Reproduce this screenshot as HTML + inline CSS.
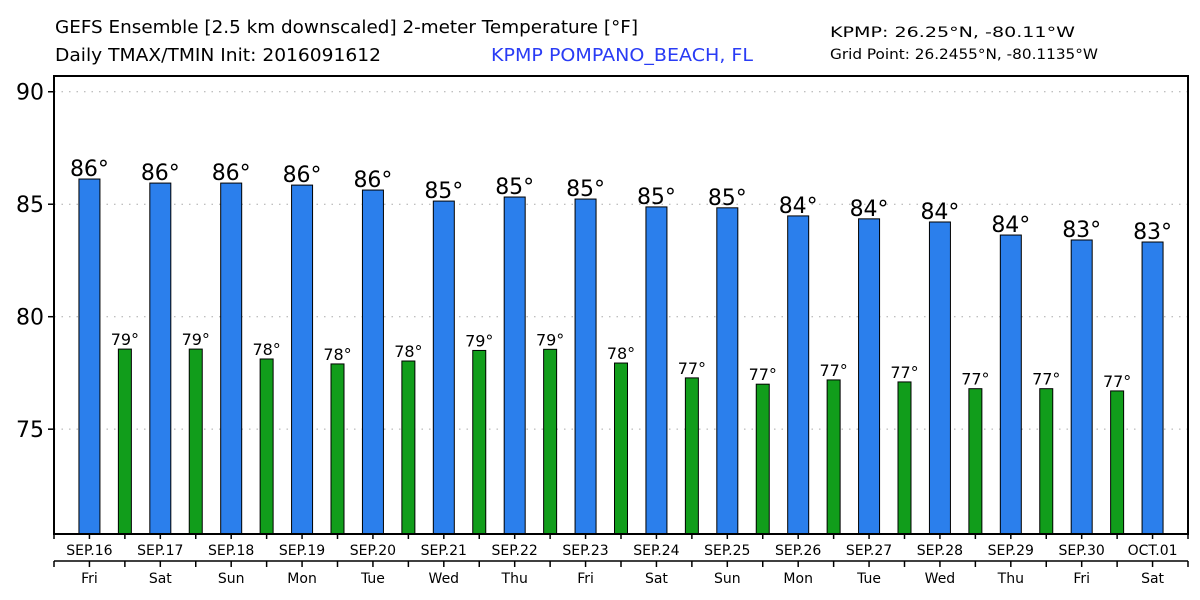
<!DOCTYPE html>
<html><head><meta charset="utf-8"><style>
html,body{margin:0;padding:0;background:#fff;width:1200px;height:600px;overflow:hidden}
svg text{font-family:"DejaVu Sans","Liberation Sans",sans-serif}
</style></head><body>
<svg id="chart" width="1200" height="600" xmlns="http://www.w3.org/2000/svg">
<text x="55" y="33" font-size="18" textLength="583" lengthAdjust="spacingAndGlyphs">GEFS Ensemble [2.5 km downscaled] 2-meter Temperature [°F]</text>
<text x="55" y="61" font-size="18" textLength="326" lengthAdjust="spacingAndGlyphs">Daily TMAX/TMIN Init: 2016091612</text>
<text x="491" y="61" font-size="18" fill="#2a3cf5" textLength="262" lengthAdjust="spacingAndGlyphs">KPMP POMPANO_BEACH, FL</text>
<text x="830" y="37" font-size="14" textLength="245" lengthAdjust="spacingAndGlyphs">KPMP: 26.25°N, -80.11°W</text>
<text x="830" y="59" font-size="14" textLength="268" lengthAdjust="spacingAndGlyphs">Grid Point: 26.2455°N, -80.1135°W</text>
<g id="grid"></g><g id="bars"></g><g id="axes"></g>
</svg>
<script>
const dates=["SEP.16","SEP.17","SEP.18","SEP.19","SEP.20","SEP.21","SEP.22","SEP.23","SEP.24","SEP.25","SEP.26","SEP.27","SEP.28","SEP.29","SEP.30","OCT.01"];
const days=["Fri","Sat","Sun","Mon","Tue","Wed","Thu","Fri","Sat","Sun","Mon","Tue","Wed","Thu","Fri","Sat"];
const tmax=[86.12,85.94,85.94,85.85,85.63,85.14,85.32,85.23,84.88,84.84,84.48,84.35,84.21,83.63,83.41,83.32];
const tmin=[78.56,78.56,78.12,77.9,78.03,78.5,78.55,77.94,77.28,77.0,77.19,77.1,76.8,76.8,76.7];
const yTicks=[75,80,85,90];
const NS="http://www.w3.org/2000/svg";
const L=54,R=1188,T=76,B=534,YMIN=70.34,YMAX=90.7;
const dw=(R-L)/dates.length;
const y=v=>B-(v-YMIN)/(YMAX-YMIN)*(B-T);
const x=i=>L+i*dw;
function mk(tag,attrs,parent){const e=document.createElementNS(NS,tag);for(const k in attrs)e.setAttribute(k,attrs[k]);parent.appendChild(e);return e;}
const grid=document.getElementById('grid'),bars=document.getElementById('bars'),axes=document.getElementById('axes');
yTicks.forEach(t=>{
 const g=mk('line',{x1:L,x2:R,y1:y(t),y2:y(t),stroke:'#aaa','stroke-dasharray':'1.5,6'},grid);
 
 
 const tk=mk('line',{x1:L-6,x2:L,y1:y(t),y2:y(t),stroke:'#000','stroke-width':1.5},axes);
 
 
 const lb=mk('text',{x:L-10,y:y(t)+8,'font-size':22,'text-anchor':'end'},axes);
 lb.textContent=t;
 
 
});
tmax.forEach((v,i)=>{
 const cx=x(i)+dw/2;
 const r=mk('rect',{x:cx-10.5,y:y(v),width:21,height:B-y(v),fill:'#2b7fec',stroke:'#000','stroke-width':1},bars);
 
 
 const t=mk('text',{x:cx,y:y(v)-3,'font-size':22,'text-anchor':'middle'},bars);
 t.textContent=Math.round(v)+'°';
 
 
});
tmin.forEach((v,i)=>{
 const cx=x(i+1);
 const r=mk('rect',{x:cx-6.5,y:y(v),width:13,height:B-y(v),fill:'#119d1b',stroke:'#000','stroke-width':1},bars);
 
 
 const t=mk('text',{x:cx,y:y(v)-4,'font-size':16,'text-anchor':'middle'},bars);
 t.textContent=Math.round(v)+'°';
 
 
});
const fr=mk('rect',{x:L,y:T,width:R-L,height:B-T,fill:'none',stroke:'#000','stroke-width':2},axes);


const l2=mk('line',{x1:L,x2:R,y1:561,y2:561,stroke:'#000','stroke-width':1.5},axes);


for(let i=0;i<=dates.length;i++){
 mk('line',{x1:x(i),x2:x(i),y1:B,y2:B+5,stroke:'#000','stroke-width':1.5},axes);
 mk('line',{x1:x(i),x2:x(i),y1:561,y2:567,stroke:'#000','stroke-width':1.5},axes);
}
dates.forEach((d,i)=>{
 const cx=x(i)+dw/2;
 mk('line',{x1:cx,x2:cx,y1:B,y2:B+5,stroke:'#000','stroke-width':1.5},axes);
 mk('line',{x1:cx,x2:cx,y1:561,y2:567,stroke:'#000','stroke-width':1.5},axes);
 const t=mk('text',{x:cx,y:555,'font-size':14,'text-anchor':'middle'},axes);
 t.textContent=d;
 
 
 const t2=mk('text',{x:cx,y:583,'font-size':14,'text-anchor':'middle'},axes);
 t2.textContent=days[i];
 
 
});
</script>
</body></html>
